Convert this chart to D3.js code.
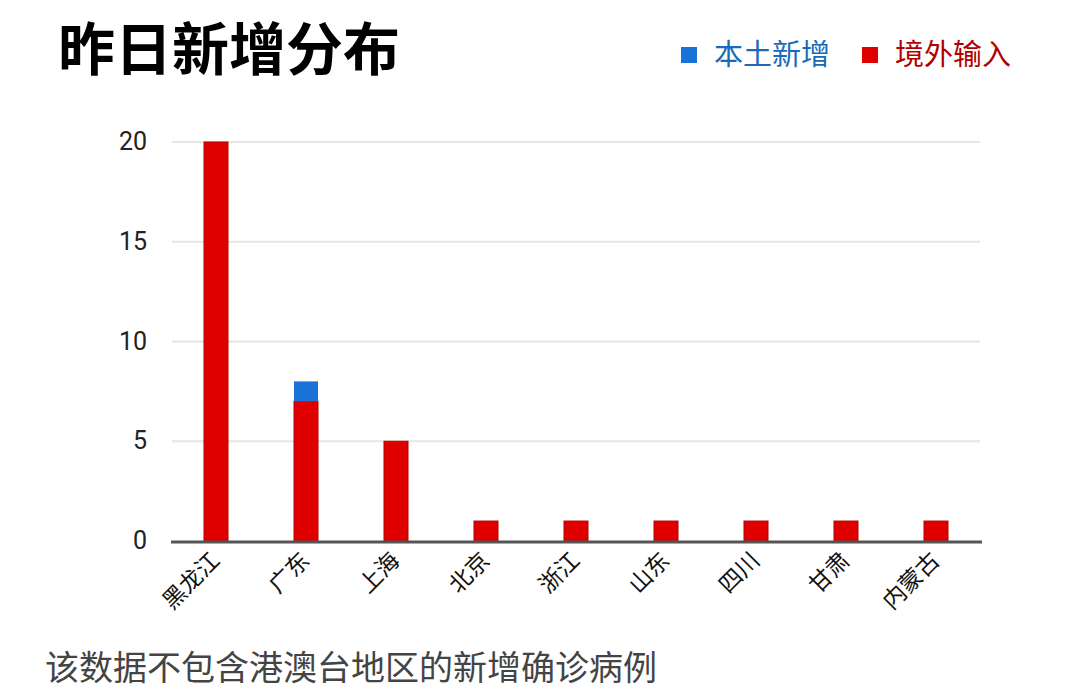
<!DOCTYPE html>
<html><head><meta charset="utf-8">
<script src="https://cdn.jsdelivr.net/npm/d3@7"></script>
<style>body{margin:0;background:#fff;}</style>
</head><body>
<svg id="c" width="1080" height="700"></svg>
<script>
const categories = ["黑龙江","广东","上海","北京","浙江","山东","四川","甘肃","内蒙古"];
const imported = [20,7,5,1,1,1,1,1,1];
const local = [0,1,0,0,0,0,0,0,0];
const yTicks = [0,5,10,15,20];
const seriesNames = ["本土新增","境外输入"];

const svg = d3.select("#c");
const font = "'Noto Sans CJK SC', Roboto, sans-serif";
const x = d3.scaleBand().domain(categories).range([171,981]);
const y = d3.scaleLinear().domain([0,20]).range([541,142]);
const barW = 24;

// grid
svg.append("g").selectAll("line").data(yTicks.filter(d=>d>0)).join("line")
  .attr("x1",172).attr("x2",980).attr("y1",d=>y(d)).attr("y2",d=>y(d))
  .attr("stroke","#e6e6e6").attr("stroke-width",2);

// y labels
svg.append("g").selectAll("text").data(yTicks).join("text")
  .attr("x",147).attr("y",d=>y(d)+8).attr("text-anchor","end")
  .attr("font-family","Roboto, sans-serif").attr("font-size",25).attr("fill","#222")
  .text(d=>d);

const data = categories.map((c,i)=>({c, imp:imported[i], loc:local[i]}));
// imported bars
svg.append("g").selectAll("rect").data(data).join("rect")
  .attr("x",d=>x(d.c)+x.bandwidth()/2-barW/2).attr("width",barW)
  .attr("y",d=>y(d.imp)).attr("height",d=>y(0)-y(d.imp))
  .attr("fill","#e00000").attr("stroke","#b00000").attr("stroke-width",1);
// local bars stacked
svg.append("g").selectAll("rect").data(data.filter(d=>d.loc>0)).join("rect")
  .attr("x",d=>x(d.c)+x.bandwidth()/2-barW/2).attr("width",barW)
  .attr("y",d=>y(d.imp+d.loc)).attr("height",d=>y(d.imp)-y(d.imp+d.loc))
  .attr("fill","#1a72d6");

// baseline
svg.append("line").attr("x1",171).attr("x2",982).attr("y1",y(0)+1).attr("y2",y(0)+1)
  .attr("stroke","#555").attr("stroke-width",3);

// x labels
svg.append("g").selectAll("text").data(categories).join("text")
  .attr("transform",d=>`translate(${x(d)+x.bandwidth()/2+5},${562}) rotate(-45)`)
  .attr("text-anchor","end").attr("font-family",font).attr("font-size",23).attr("fill","#111")
  .text(d=>d);

// title
svg.append("text").attr("x",58).attr("y",70).attr("font-family",font).attr("font-weight","bold")
  .attr("font-size",57).attr("fill","#000").text("昨日新增分布");

// legend
const legColors = ["#1a72d6","#e00000"];
const legText = ["#1a6ab8","#b00000"];
const legX = [681,862];
seriesNames.forEach((s,i)=>{
  svg.append("rect").attr("x",legX[i]).attr("y",47).attr("width",16).attr("height",16).attr("fill",legColors[i]);
  svg.append("text").attr("x",legX[i]+33).attr("y",65).attr("font-family",font).attr("font-size",29)
    .attr("fill",legText[i]).text(s);
});

// footnote
svg.append("text").attr("x",45).attr("y",680).attr("font-family",font).attr("font-size",34)
  .attr("fill","#444").text("该数据不包含港澳台地区的新增确诊病例");
</script>
</body></html>
